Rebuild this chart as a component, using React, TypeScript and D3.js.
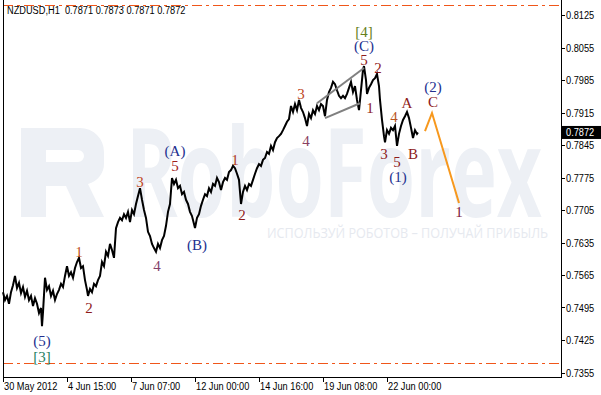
import React from 'react';
import * as d3 from 'd3';

const W = 601;
const H = 395;

// hourly price path: bar index and price
const pathBars = [
  0, 2, 4, 6, 8, 10, 12, 14, 16, 18, 20, 22, 24, 26, 28, 30, 32, 34, 36, 38, 39, 40, 42, 44, 46, 48, 50,
  52, 54, 56, 58, 60, 62, 64, 66, 68, 70, 72, 74, 76, 78, 80, 82, 84, 85, 87, 89, 91, 93, 95, 97, 99,
  101, 103, 105, 107, 109, 111, 113, 115, 117, 119, 121, 123, 125, 127, 129, 131, 133, 135, 137, 139,
  141, 143, 145, 147, 149, 151, 153, 155, 157, 159, 161, 163, 165, 167,
  169, 171, 173, 175, 177, 179, 181, 183, 185, 187, 189, 191, 192, 194, 196, 198, 200, 202, 204, 206,
  208, 210, 212, 214, 216, 218, 220, 222, 224, 226, 228, 230, 232, 234, 236, 238, 240, 242, 244, 246,
  248, 250, 252, 254, 256, 258, 260, 262, 264, 266, 268, 270, 272, 274, 276, 278, 280, 282, 284, 286,
  288, 290, 292, 294, 296, 298, 300, 302, 304, 306, 308, 310, 312, 314, 316, 318, 320, 322, 324, 326,
  328, 330, 332, 334, 336, 338, 340, 342, 344, 346, 348, 350, 352, 354, 356, 358, 360, 361, 363, 364,
  366, 368, 370, 372, 374, 376, 377, 379, 381, 382, 384, 386, 388, 390, 392, 394, 396, 398, 400, 402,
  404, 406, 408, 410, 412, 414, 415,
];
const pathPrices = [
  0.7528, 0.7511, 0.7520, 0.7503, 0.7528, 0.7543, 0.7563, 0.7537, 0.7548, 0.7526, 0.7539, 0.7518, 0.7531,
  0.7511, 0.7520, 0.7498, 0.7515, 0.7503, 0.7483, 0.7494, 0.7455, 0.7485, 0.7559, 0.7533, 0.7541, 0.7520,
  0.7531, 0.7511, 0.7524, 0.7533, 0.7546, 0.7539, 0.7563, 0.7584, 0.7563, 0.7571, 0.7559, 0.7580, 0.7593,
  0.7602, 0.7580, 0.7584, 0.7554, 0.7533, 0.7520, 0.7535, 0.7528, 0.7546, 0.7541, 0.7554, 0.7563, 0.7593,
  0.7584, 0.7615, 0.7606, 0.7632, 0.7619, 0.7602, 0.7666, 0.7679, 0.7688, 0.7683, 0.7696, 0.7688, 0.7701,
  0.7679, 0.7705, 0.7696, 0.7718, 0.7735, 0.7752, 0.7727, 0.7705, 0.7688, 0.7658, 0.7649, 0.7632, 0.7623,
  0.7615, 0.7632, 0.7623, 0.7640, 0.7649, 0.7671, 0.7701, 0.7718,
  0.7774, 0.7761, 0.7770, 0.7752, 0.7757, 0.7739, 0.7744, 0.7727, 0.7718, 0.7701, 0.7692, 0.7675, 0.7666,
  0.7688, 0.7696, 0.7714, 0.7727, 0.7739, 0.7735, 0.7752, 0.7744, 0.7761, 0.7757, 0.7774, 0.7765, 0.7748,
  0.7765, 0.7774, 0.7770, 0.7787, 0.7791, 0.7800, 0.7795, 0.7783, 0.7770, 0.7718, 0.7744, 0.7757, 0.7748,
  0.7761, 0.7757, 0.7770, 0.7783, 0.7795, 0.7804, 0.7800, 0.7813, 0.7817, 0.7830, 0.7826, 0.7843, 0.7834,
  0.7851, 0.7860, 0.7864, 0.7869, 0.7877, 0.7886, 0.7895, 0.7901, 0.7929, 0.7916, 0.7933, 0.7920, 0.7942,
  0.7925, 0.7916, 0.7903, 0.7886, 0.7912, 0.7903, 0.7920, 0.7912, 0.7929, 0.7920, 0.7933, 0.7929, 0.7907,
  0.7942, 0.7959, 0.7968, 0.7981, 0.7976, 0.7963, 0.7951, 0.7946, 0.7951, 0.7946, 0.7955, 0.7968, 0.7981,
  0.7959, 0.7972, 0.7942, 0.7920, 0.7963, 0.8007, 0.8015, 0.7985, 0.7955, 0.7968, 0.7976, 0.7985, 0.7989,
  0.7998, 0.7972, 0.7942, 0.7899, 0.7864, 0.7851, 0.7877, 0.7869, 0.7882, 0.7877, 0.7886, 0.7843, 0.7869,
  0.7886, 0.7899, 0.7907, 0.7916, 0.7903, 0.7882, 0.7860, 0.7877, 0.7869, 0.7872,
];

const yTicks = [0.8125, 0.8055, 0.7985, 0.7915, 0.7845, 0.7775, 0.7705, 0.7635, 0.7565, 0.7495, 0.7425, 0.7355];
const xTickBars = [0, 64, 128, 192, 256, 320, 384];
const xTickLabels = ['30 May 2012', '4 Jun 15:00', '7 Jun 07:00', '12 Jun 00:00', '14 Jun 16:00', '19 Jun 08:00', '22 Jun 00:00'];

const lastPrice = 0.7872;
const headerText = 'NZDUSD,H1  0.7871 0.7873 0.7871 0.7872';

const triUpperBars = [314, 361];
const triUpperPrices = [0.7935, 0.8011];
const triLowerBars = [322, 357];
const triLowerPrices = [0.7903, 0.7935];

const projBars = [422, 429, 456];
const projPrices = [0.7875, 0.7914, 0.7720];

const levelPrices = [0.8147, 0.7376];

const NAVY = '#23308f';
const DRED = '#8e1b1b';
const waveTexts = ['[4]', '(C)', '5', '2', '1', '3', '4', '(2)', 'C', 'A', '4', '3', '5', 'B', '(1)', '1',
  '(A)', '5', '3', '4', '(B)', '1', '2', '1', '2', '(5)', '[3]'];
const waveBars = [361, 361, 361, 375, 367, 298, 303, 430, 430, 404, 391, 381, 394, 410, 395, 456,
  172, 172, 137, 154, 194, 232, 239, 76, 86, 39, 39];
const wavePrices = [0.8088, 0.8058, 0.8028, 0.8011, 0.7925, 0.7955, 0.7854, 0.7970, 0.7938, 0.7935, 0.7905,
  0.7826, 0.7808, 0.7826, 0.7776, 0.7701, 0.7832, 0.7800, 0.7765, 0.7584, 0.7630, 0.7813, 0.7694, 0.7615,
  0.7494, 0.7423, 0.7388];
const waveColors = ['#66801a', NAVY, DRED, DRED, DRED, '#c0461c', '#8a4060', NAVY, DRED, DRED, '#b8541e',
  DRED, DRED, DRED, NAVY, '#7e1a3e', NAVY, '#a0201c', '#c0461c', '#84406a', NAVY, '#b03a1c', DRED,
  '#c0501c', DRED, NAVY, '#1f7f5f'];

const AXIS_FONT = "'Liberation Sans', Arial, sans-serif";
const NARROW = 0.84;

function AxisText({ x, y, children, fill = '#000' }: { x: number; y: number; children: React.ReactNode; fill?: string }) {
  return (
    <text
      transform={`translate(${x},${y}) scale(${NARROW},1)`}
      x={0}
      y={0}
      fontFamily={AXIS_FONT}
      fontSize={11}
      fill={fill}
      style={{ whiteSpace: 'pre' }}
    >
      {children}
    </text>
  );
}

export default function App() {
  const left = 3;
  const right = 561;
  const bottom = 377;
  const x = d3.scaleLinear().domain([0, 558]).range([left, right]);
  const y = d3.scaleLinear().domain([0.7355, 0.8125]).range([372.5, 15]);

  const line = d3.line<number>().x((_, i) => x(pathBars[i])).y((d) => y(d));
  const tri1 = d3.line<number>().x((_, i) => x(triUpperBars[i])).y((d) => y(d));
  const tri2 = d3.line<number>().x((_, i) => x(triLowerBars[i])).y((d) => y(d));
  const proj = d3.line<number>().x((_, i) => x(projBars[i])).y((d) => y(d));

  return (
    <svg
      width={W}
      height={H}
      viewBox={`0 0 ${W} ${H}`}
      style={{ position: 'absolute', left: 0, top: 0, background: '#fff' }}
    >
      <rect x={0} y={0} width={W} height={H} fill="#fff" />
      {/* watermark */}
      <g fill="#edf0f5">
        <path
          fillRule="evenodd"
          d="M21,128 H80 A24,24 0 0 1 104,152 V163 A21,21 0 0 1 88,184 L104,217 H80 L66,186 H46 V217 H21 Z M46,150 H78 A6,6 0 0 1 78,162 H46 Z"
        />
        <text
          x={126}
          y={217}
          fontFamily="'Open Sans', 'DejaVu Sans', sans-serif"
          fontWeight={700}
          fontSize={124}
          textLength={416}
          lengthAdjust="spacingAndGlyphs"
        >
          RoboForex
        </text>
        <text
          x={267}
          y={238}
          fill="#e6e9ef"
          fontFamily="'Open Sans', 'DejaVu Sans', sans-serif"
          fontSize={14}
          textLength={281}
          lengthAdjust="spacingAndGlyphs"
        >
          ИСПОЛЬЗУЙ РОБОТОВ – ПОЛУЧАЙ ПРИБЫЛЬ
        </text>
      </g>

      {/* level lines */}
      {levelPrices.map((p, i) => (
        <line
          key={i}
          x1={left}
          x2={right}
          y1={Math.round(y(p)) + 0.5}
          y2={Math.round(y(p)) + 0.5}
          stroke="#f0561a"
          strokeWidth={1}
          strokeDasharray="10,4,3,4"
        />
      ))}

      {/* price */}
      <path d={line(pathPrices) || ''} fill="none" stroke="#000" strokeWidth={2} strokeLinejoin="miter" />

      {/* triangle */}
      <path d={tri1(triUpperPrices) || ''} stroke="#808080" strokeWidth={2} fill="none" />
      <path d={tri2(triLowerPrices) || ''} stroke="#808080" strokeWidth={2} fill="none" />

      {/* projection */}
      <path d={proj(projPrices) || ''} stroke="#f7981d" strokeWidth={2} fill="none" />

      {/* wave labels */}
      {waveTexts.map((t, i) => (
        <text
          key={i}
          x={x(waveBars[i])}
          y={y(wavePrices[i])}
          textAnchor="middle"
          dominantBaseline="central"
          fontFamily="'Liberation Serif', 'Times New Roman', serif"
          fontSize={15}
          fill={waveColors[i]}
        >
          {t}
        </text>
      ))}

      {/* frame */}
      <line x1={left + 0.5} x2={left + 0.5} y1={0} y2={bottom + 0.5} stroke="#000" />
      <line x1={right + 0.5} x2={right + 0.5} y1={0} y2={bottom + 0.5} stroke="#000" />
      <line x1={left} x2={right + 1} y1={bottom + 0.5} y2={bottom + 0.5} stroke="#000" />

      {/* y axis */}
      {yTicks.map((t) => (
        <g key={t}>
          <line x1={right + 1} x2={right + 4} y1={Math.round(y(t)) + 0.5} y2={Math.round(y(t)) + 0.5} stroke="#000" />
          <AxisText x={566} y={y(t) + 4}>{t.toFixed(4)}</AxisText>
        </g>
      ))}
      <rect x={562} y={y(lastPrice) - 6.5} width={39} height={13} fill="#000" />
      <AxisText x={566} y={y(lastPrice) + 4} fill="#fff">{lastPrice.toFixed(4)}</AxisText>

      {/* x axis */}
      {xTickBars.map((b, i) => (
        <g key={b}>
          <line x1={Math.round(x(b)) + 0.5} x2={Math.round(x(b)) + 0.5} y1={bottom} y2={bottom + 5} stroke="#000" />
          <AxisText x={x(b) + 1} y={390}>{xTickLabels[i]}</AxisText>
        </g>
      ))}

      {/* header */}
      <AxisText x={7} y={14}>{headerText}</AxisText>
    </svg>
  );
}
